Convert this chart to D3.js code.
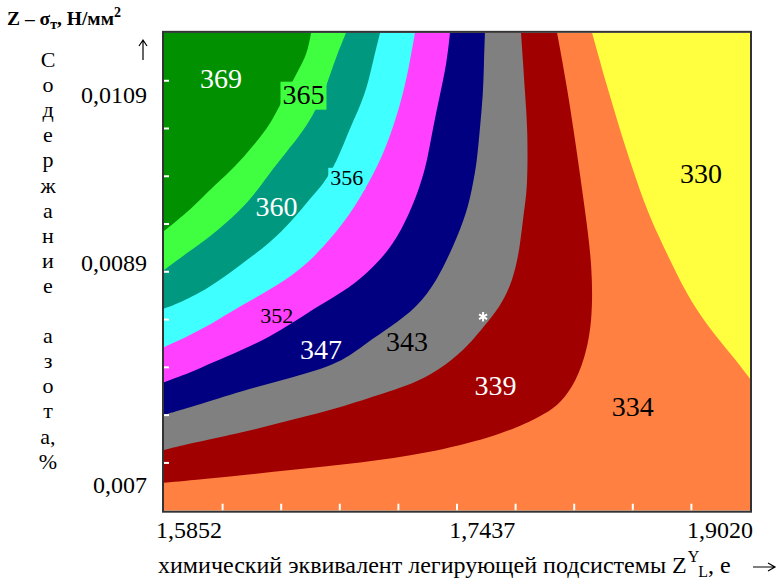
<!DOCTYPE html>
<html>
<head>
<meta charset="utf-8">
<title>Z - sigma</title>
<script src="https://cdnjs.cloudflare.com/ajax/libs/d3/7.8.5/d3.min.js"></script>
<style>
  body { margin: 0; background: #fff; }
</style>
</head>
<body>
<div id="chart"></div>
<script>
// axes
var xLims = [1.5852, 1.9020];
var yLims = [0.00678, 0.01164];
var xTickVals = [1.5852, 1.7437, 1.9020];
var xTickLabels = ["1,5852", "1,7437", "1,9020"];
var yTickVals = [0.0109, 0.0089, 0.007];
var yTickLabels = ["0,0109", "0,0089", "0,007"];

// band levels, low -> high
var baseLevel = 334;
var levels = [339, 343, 347, 352, 356, 360, 365, 369];
var topRightLevel = 330;

// iso-lines [Z_L, N %], from the top edge to the left edge
var iso339 = [[1.7977,0.01164],[1.8031,0.01100],[1.8085,0.01021],[1.8128,0.00953],[1.8168,0.00887],[1.8168,0.00839],[1.8125,0.00807],[1.8063,0.00784],[1.7977,0.00767],[1.7885,0.00759],[1.7814,0.00753],[1.7631,0.00741],[1.7274,0.00727],[1.6912,0.00719],[1.6549,0.00713],[1.6193,0.00707],[1.5852,0.00702]];
var iso343 = [[1.7782,0.01164],[1.7793,0.01130],[1.7804,0.01090],[1.7818,0.01051],[1.7818,0.00979],[1.7796,0.00950],[1.7777,0.00909],[1.7739,0.00875],[1.7668,0.00852],[1.7577,0.00835],[1.7523,0.00824],[1.7414,0.00807],[1.7252,0.00790],[1.7090,0.00781],[1.6820,0.00767],[1.6549,0.00756],[1.6279,0.00745],[1.6009,0.00736],[1.5852,0.00730]];
var iso347 = [[1.7587,0.01164],[1.7582,0.01130],[1.7577,0.01090],[1.7560,0.01051],[1.7544,0.01011],[1.7523,0.00985],[1.7490,0.00950],[1.7414,0.00909],[1.7328,0.00875],[1.7220,0.00852],[1.7074,0.00835],[1.6949,0.00822],[1.6804,0.00804],[1.6549,0.00792],[1.6279,0.00781],[1.6009,0.00767],[1.5852,0.00760]];
var iso352 = [[1.7398,0.01164],[1.7382,0.01130],[1.7344,0.01090],[1.7306,0.01051],[1.7274,0.01011],[1.7241,0.00985],[1.7182,0.00950],[1.7090,0.00911],[1.6982,0.00886],[1.6858,0.00869],[1.6695,0.00854],[1.6549,0.00839],[1.6425,0.00827],[1.6279,0.00816],[1.6101,0.00804],[1.6009,0.00797],[1.5852,0.00788]];
var iso356 = [[1.7209,0.01164],[1.7182,0.01130],[1.7144,0.01090],[1.7090,0.01051],[1.7036,0.01019],[1.6966,0.00988],[1.6858,0.00947],[1.6712,0.00908],[1.6587,0.00884],[1.6425,0.00867],[1.6263,0.00853],[1.6101,0.00837],[1.5976,0.00827],[1.5852,0.00818]];
var iso360 = [[1.7020,0.01164],[1.6982,0.01130],[1.6949,0.01098],[1.6901,0.01071],[1.6858,0.01051],[1.6787,0.01011],[1.6712,0.00983],[1.6641,0.00967],[1.6549,0.00941],[1.6425,0.00914],[1.6279,0.00890],[1.6101,0.00869],[1.5939,0.00856],[1.5852,0.00851]];
var iso365 = [[1.6836,0.01164],[1.6787,0.01138],[1.6750,0.01114],[1.6712,0.01090],[1.6658,0.01066],[1.6587,0.01042],[1.6517,0.01023],[1.6436,0.01001],[1.6360,0.00977],[1.6263,0.00952],[1.6101,0.00921],[1.5976,0.00902],[1.5852,0.00884]];
var iso369 = [[1.6647,0.01164],[1.6625,0.01138],[1.6576,0.01119],[1.6528,0.01098],[1.6479,0.01078],[1.6425,0.01055],[1.6355,0.01035],[1.6263,0.01011],[1.6155,0.00988],[1.6063,0.00969],[1.5976,0.00950],[1.5852,0.00928]];
// 330 line runs from the top edge to the right edge
var iso330 = [[1.8166,0.01164],[1.8247,0.01100],[1.8355,0.01021],[1.8452,0.00959],[1.8517,0.00926],[1.8604,0.00887],[1.8696,0.00858],[1.8820,0.00830],[1.8928,0.00810],[1.9020,0.00791]];

// value labels
var labelVals = [369, 365, 360, 356, 352, 347, 343, 339, 334, 330];
var labelZ = [1.6160, 1.6606, 1.6460, 1.6840, 1.6461, 1.6701, 1.7166, 1.7644, 1.8386, 1.8755];
var labelN = [0.01110, 0.01091, 0.00957, 0.00992, 0.00845, 0.00816, 0.00823, 0.00785, 0.00767, 0.00997];
var boxedLabels = [365, 356];
var smallLabels = [356, 352];
var optimum = [1.7577, 0.00844];

var isoLines = [iso339, iso343, iso347, iso352, iso356, iso360, iso365, iso369];
var color = d3.scaleOrdinal()
  .domain([330, 334, 339, 343, 347, 352, 356, 360, 365, 369])
  .range(["#ffff40", "#ff8040", "#a00000", "#808080", "#000080", "#ff40ff", "#40ffff", "#009980", "#40ff40", "#009000"]);

var FONT = "Liberation Serif";
var W = 781, H = 583;
var svg = d3.select("#chart").append("svg").attr("width", W).attr("height", H);

var x = d3.scaleLinear().domain(xLims).range([164, 750]);
// piecewise: the printed tick labels are not evenly spaced
var y = d3.scaleLinear().domain([0.007, 0.0089, 0.0109]).range([485, 263, 95]);

var x0 = x(xLims[0]), x1 = x(xLims[1]), yT = y(yLims[1]), yB = y(yLims[0]);

svg.append("clipPath").attr("id", "plot")
  .append("rect").attr("x", x0).attr("y", yT).attr("width", x1 - x0).attr("height", yB - yT);

var g = svg.append("g").attr("clip-path", "url(#plot)");

g.append("rect").attr("x", x0).attr("y", yT).attr("width", x1 - x0).attr("height", yB - yT)
  .attr("fill", color(baseLevel));

var line = d3.line().x(d => x(d[0])).y(d => y(d[1])).curve(d3.curveBasis);

isoLines.forEach(function (pts, i) {
  g.append("path")
    .attr("d", line(pts) + "L" + (x0 - 2) + "," + (y(pts[pts.length - 1][1])) + "L" + (x0 - 2) + "," + (yT - 2) + "L" + x(pts[0][0]) + "," + (yT - 2) + "Z")
    .attr("fill", color(levels[i]));
});

g.append("path")
  .attr("d", line(iso330) + "L" + (x1 + 2) + "," + y(iso330[iso330.length - 1][1]) + "L" + (x1 + 2) + "," + (yT - 2) + "L" + x(iso330[0][0]) + "," + (yT - 2) + "Z")
  .attr("fill", color(topRightLevel));

// frame ticks (white, inside)
var gx = d3.scaleLinear().domain([0, 10]).range([x0, x1]);
var gy = d3.scaleLinear().domain([0, 10]).range([yB, yT]);
g.selectAll(".xt").data(d3.range(1, 10)).join("line")
  .attr("x1", d => gx(d)).attr("x2", d => gx(d)).attr("y1", yB - 7).attr("y2", yB)
  .attr("stroke", "#fff").attr("stroke-width", 2);
g.selectAll(".yt").data(d3.range(1, 10)).join("line")
  .attr("x1", x0).attr("x2", x0 + 5).attr("y1", d => gy(d)).attr("y2", d => gy(d))
  .attr("stroke", "#fff").attr("stroke-width", 2);

// labels
var lab = svg.append("g");
labelVals.forEach(function (v, i) {
  var fs = smallLabels.indexOf(v) >= 0 ? 22 : 28;
  var bandColor = color(v);
  var txt = lab.append("text")
    .style("font-family", FONT)
    .attr("x", x(labelZ[i])).attr("y", y(labelN[i])).attr("dy", "0.34em")
    .attr("text-anchor", "middle")
    .attr("font-size", fs)
    .attr("fill", d3.hsl(bandColor).l <= 0.5 ? "#fff" : "#000")
    .text(v);
  if (boxedLabels.indexOf(v) >= 0) {
    var b = txt.node().getBBox();
    lab.insert("rect", "text")
      .attr("x", b.x - 2).attr("y", b.y + 3).attr("width", b.width + 4).attr("height", b.height - 3)
      .attr("fill", bandColor);
  }
});

svg.append("path")
  .attr("transform", "translate(" + x(optimum[0]) + "," + y(optimum[1]) + ")")
  .attr("d", d3.symbol(d3.symbolAsterisk, 60)())
  .attr("stroke", "#fff").attr("stroke-width", 2).attr("fill", "none");

// frame
svg.append("rect").attr("x", x0 - 1).attr("y", yT - 1).attr("width", x1 - x0 + 2).attr("height", yB - yT + 2)
  .attr("fill", "none").attr("stroke", "#333").attr("stroke-width", 2);

// tick labels
svg.selectAll(".xl").data(xTickVals).join("text")
  .style("font-family", FONT)
  .attr("x", (d, i) => i === xTickVals.length - 1 ? x(d) + 3 : x(d) - 8)
  .attr("y", 538)
  .attr("text-anchor", (d, i) => i === xTickVals.length - 1 ? "end" : "start")
  .attr("font-size", 24)
  .text((d, i) => xTickLabels[i]);

svg.selectAll(".yl").data(yTickVals).join("text")
  .style("font-family", FONT)
  .attr("x", 147).attr("y", d => y(d)).attr("dy", "0.34em")
  .attr("text-anchor", "end")
  .attr("font-size", 24)
  .text((d, i) => yTickLabels[i]);

// titles
var t = svg.append("text").style("font-family", FONT)
  .attr("x", 7).attr("y", 25).attr("font-size", 19.5).attr("font-weight", "bold");
t.append("tspan").text("Z – σ");
t.append("tspan").attr("font-size", 14).attr("dy", 4).text("т");
t.append("tspan").attr("dy", -4).text(", Н/мм");
t.append("tspan").attr("font-size", 14).attr("dy", -8).text("2");

// axis arrows drawn as lines
var arrows = svg.append("g").attr("stroke", "#000").attr("stroke-width", 1.2).attr("fill", "none");
arrows.append("path").attr("d", "M143,60V41M139,46L143,40L147,46");
arrows.append("path").attr("d", "M753,567H774M768,563L775,567L768,571");

var vTitle = ["С", "о", "д", "е", "р", "ж", "а", "н", "и", "е", "", "а", "з", "о", "т", "а,", "%"];
svg.selectAll(".vt").data(vTitle).join("text")
  .style("font-family", FONT)
  .attr("x", 48).attr("y", (d, i) => 67 + i * 25.1)
  .attr("text-anchor", "middle").attr("font-size", 22)
  .text(d => d);

var xt = svg.append("text").style("font-family", FONT)
  .attr("x", 158).attr("y", 573).attr("font-size", 24);
xt.append("tspan").text("химический эквивалент легирующей подсистемы Z");
xt.append("tspan").attr("font-size", 16).attr("dy", -11).attr("dx", 1).text("Y");
xt.append("tspan").attr("font-size", 16).attr("dy", 15).attr("dx", -1).text("L");
xt.append("tspan").attr("dy", -4).text(", е");

svg.selectAll("tspan").style("font-family", FONT);
</script>
</body>
</html>
